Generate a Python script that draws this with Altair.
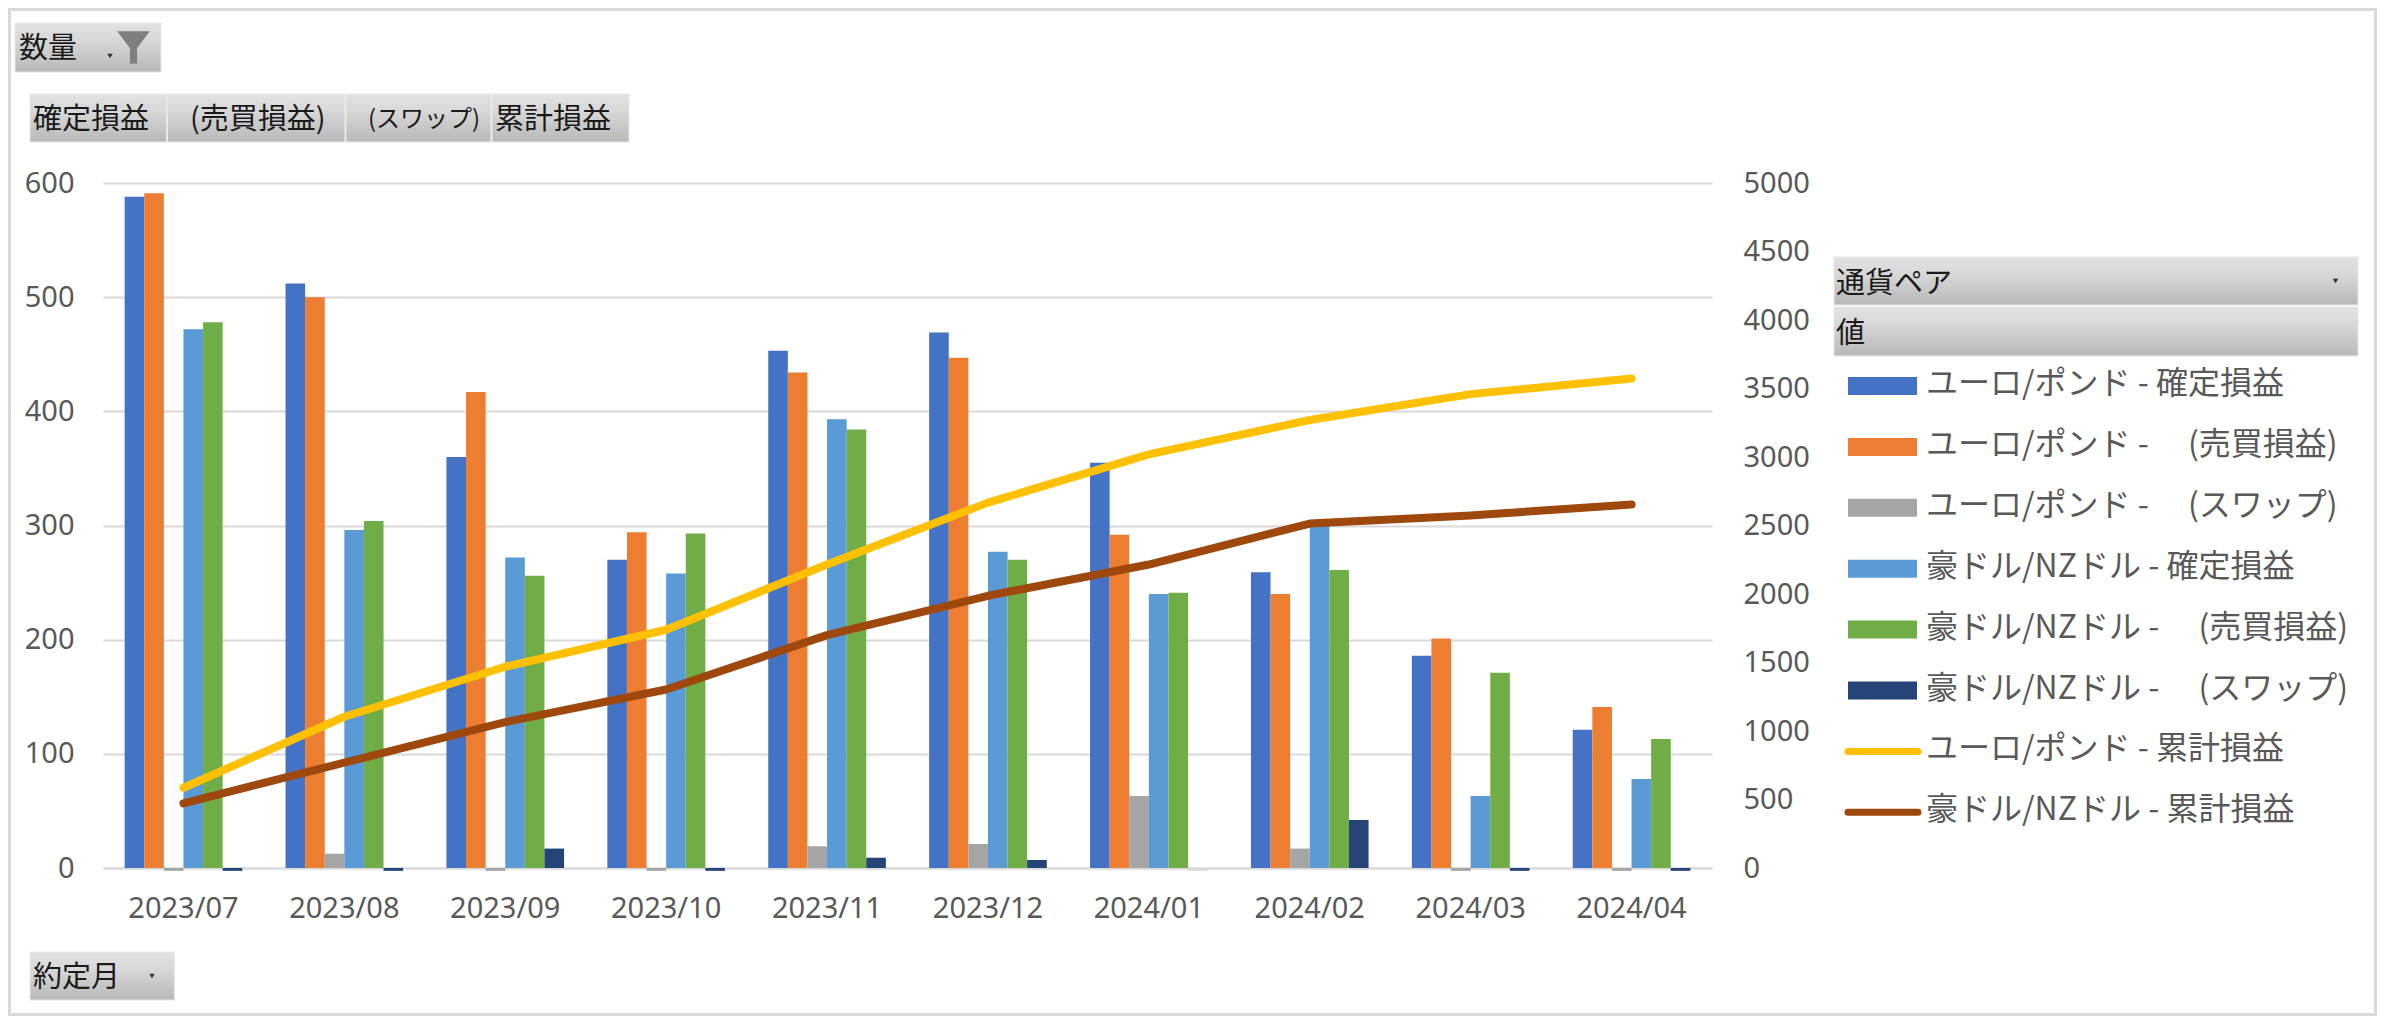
import altair as alt
import pandas as pd

months = ["2023/07", "2023/08", "2023/09", "2023/10", "2023/11", "2023/12", "2024/01", "2024/02", "2024/03", "2024/04"]

eur_real = [588, 512, 360, 270, 453, 469, 355, 259, 186, 121]
eur_trade = [591, 500, 417, 294, 434, 447, 292, 240, 201, 141]
eur_swap = [-2.5, 12.5, -2.5, -2.5, 19, 21, 63, 17, -2.5, -2.5]
aud_real = [472, 296, 272, 258, 393, 277, 240, 300, 63, 78]
aud_trade = [478, 304, 256, 293, 384, 270, 241, 261, 171, 113]
aud_swap = [-2.5, -2.5, 17, -2.5, 9, 7, -2.5, 42, -2.5, -2.5]
eur_cum = [586, 1104, 1469, 1739, 2215, 2667, 3019, 3270, 3459, 3573]
aud_cum = [472, 769, 1065, 1303, 1700, 1987, 2215, 2514, 2573, 2654]

bar_labels = [
    "ユーロ/ポンド - 確定損益", "ユーロ/ポンド - \u3000(売買損益)", "ユーロ/ポンド - \u3000(スワップ)",
    "豪ドル/NZドル - 確定損益", "豪ドル/NZドル - \u3000(売買損益)", "豪ドル/NZドル - \u3000(スワップ)",
]
line_labels = ["ユーロ/ポンド - 累計損益", "豪ドル/NZドル - 累計損益"]
bar_colors = ["#4472C4", "#ED7D31", "#A5A5A5", "#5B9BD5", "#70AD47", "#264478"]
line_colors = ["#FFC000", "#9E480E"]
bar_series = [eur_real, eur_trade, eur_swap, aud_real, aud_trade, aud_swap]
line_series = [eur_cum, aud_cum]

PLOT_L, PLOT_T, PLOT_W, PLOT_H = 103, 183, 1609, 685
TOTAL_W, TOTAL_H = 2369, 1008
CJK = "Noto Sans CJK JP"
LATIN = "Noto Sans"
GRID = "#D9D9D9"
TEXT = "#595959"

rows = []
for name, color, vals in zip(bar_labels, bar_colors, bar_series):
    for m, v in zip(months, vals):
        # the swap sliver of 2024/01 is drawn light grey in the reference
        fill = GRID if (m == "2024/01" and name == bar_labels[5]) else color
        rows.append({"month": m, "series": name, "value": v, "fill": fill})
bar_df = pd.DataFrame(rows)

line_rows = []
for name, vals in zip(line_labels, line_series):
    for m, v in zip(months, vals):
        line_rows.append({"month": m, "series": name, "value": v})
line_df = pd.DataFrame(line_rows)

x_scale = alt.Scale(domain=months, paddingInner=0.269, paddingOuter=0.1345)

bars = alt.Chart(bar_df).mark_bar(clip=False).encode(
    x=alt.X("month:N", sort=months, scale=x_scale, title=None,
            axis=alt.Axis(labelAngle=0, labelFont=LATIN, labelFontSize=29, labelColor=TEXT, labelPadding=26,
                          ticks=False, domainColor=GRID, domainWidth=2, grid=False)),
    xOffset=alt.XOffset("series:N", sort=bar_labels, scale=alt.Scale(domain=bar_labels)),
    y=alt.Y("value:Q", scale=alt.Scale(domain=[0, 600], nice=False), title=None,
            axis=alt.Axis(values=list(range(0, 601, 100)), labelFont=LATIN, labelFontSize=29, labelColor=TEXT,
                          labelPadding=29, ticks=False, domain=False, grid=True, gridColor=GRID, gridWidth=2)),
    fill=alt.Fill("fill:N", scale=None),
)

lines = alt.Chart(line_df).mark_line(strokeWidth=8, strokeCap="round", strokeJoin="round").encode(
    x=alt.X("month:N", sort=months, scale=x_scale, title=None),
    y=alt.Y("value:Q", scale=alt.Scale(domain=[0, 5000], nice=False), title=None,
            axis=alt.Axis(values=list(range(0, 5001, 500)), orient="right", format="d", labelFont=LATIN,
                          labelFontSize=29, labelColor=TEXT, labelPadding=31, ticks=False, domain=False, grid=False)),
    color=alt.Color("series:N", scale=alt.Scale(domain=line_labels, range=line_colors), legend=None),
)


def px(v):
    return alt.value(v - PLOT_L)


def py(v):
    return alt.value(v - PLOT_T)


grad = alt.Gradient(gradient="linear", x1=0, y1=0, x2=0, y2=1,
                    stops=[alt.GradientStop(offset=0, color="#E2E2E2"),
                           alt.GradientStop(offset=0.35, color="#D8D8D8"),
                           alt.GradientStop(offset=1, color="#B8B8B8")])


def button(x0, x1, y0, y1):
    return alt.Chart().mark_rect(fill=grad, stroke="#E8E8E8", strokeWidth=1).encode(
        x=px(x0), x2=px(x1), y=py(y0), y2=py(y1))


def label(text, x, y, size=29, color="#1A1A1A"):
    return alt.Chart().mark_text(text=text, align="left", baseline="middle", font=CJK, fontSize=size,
                                 color=color).encode(x=px(x), y=py(y))


def arrow(x, y):
    return alt.Chart().mark_point(shape="triangle-down", filled=True, size=30, color="#333333", opacity=1).encode(
        x=px(x), y=py(y))


# outer frame; it can only sit inside the page margin
frame = alt.Chart().mark_rect(fillOpacity=0, stroke=GRID, strokeWidth=3).encode(
    x=px(9.5), x2=px(8 + TOTAL_W - 1.5), y=py(9.5), y2=py(8 + TOTAL_H - 1.5))

chrome = [
    button(15, 161, 23, 72), label("数量", 19, 49),
    button(30, 166.5, 94, 142), label("確定損益", 33, 120),
    button(167.5, 345, 94, 142), label("(売買損益)", 190, 120),
    button(346, 491, 94, 142), label("(スワップ)", 368, 120, size=24),
    button(492, 629, 94, 142), label("累計損益", 495, 120),
    button(30, 174.5, 952, 1000), label("約定月", 33, 978),
    button(1834, 2358, 257, 305), label("通貨ペア", 1836, 284),
    button(1834, 2358, 307, 356), label("値", 1836, 334),
    arrow(110, 56), arrow(152, 976), arrow(2335.5, 281),
    alt.Chart().mark_point(shape="M-1,-1L1,-1L0.22,0.05L0.22,1L-0.22,1L-0.22,0.05Z", filled=True, size=1050,
                           color="#7F7F7F", opacity=1).encode(x=px(133.5), y=py(47.5)),
]

LEG_Y0, LEG_STEP = 386, 60.9
legend = []
for i, (name, color) in enumerate(zip(bar_labels, bar_colors)):
    yc = LEG_Y0 + LEG_STEP * i
    legend.append(alt.Chart().mark_rect(fill=color).encode(x=px(1848), x2=px(1917), y=py(yc - 9), y2=py(yc + 9)))
    legend.append(label(name, 1926, yc - 2, size=32, color=TEXT))
for j, (name, color) in enumerate(zip(line_labels, line_colors)):
    yc = LEG_Y0 + LEG_STEP * (6 + j)
    legend.append(alt.Chart().mark_rule(color=color, strokeWidth=7, strokeCap="round").encode(
        x=px(1848), x2=px(1918), y=py(yc)))
    legend.append(label(name, 1926, yc - 2, size=32, color=TEXT))

plot = alt.layer(bars, lines).resolve_scale(y="independent")

chart = alt.layer(frame, *chrome, *legend, plot).properties(
    width=PLOT_W, height=PLOT_H,
    autosize=alt.AutoSizeParams(type="none"),
    padding={"left": PLOT_L - 8, "top": PLOT_T - 8,
             "right": TOTAL_W - (PLOT_L - 8) - PLOT_W,
             "bottom": TOTAL_H - (PLOT_T - 8) - PLOT_H},
    background="#FFFFFF",
).configure_view(stroke=None)

chart.save("out.html", embed_options={"renderer": "svg", "actions": False})
